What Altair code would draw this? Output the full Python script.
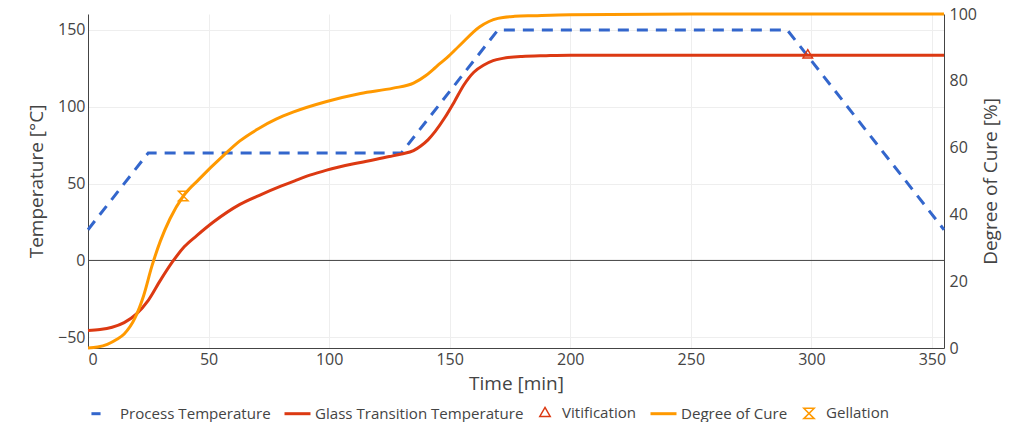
import altair as alt
import pandas as pd

# ---- data ----
proc_t = [0, 25, 130, 170, 290, 355]
proc_T = [20, 70, 70, 150, 150, 20]

tg_t = [0, 5, 10, 15, 20, 25, 30, 35, 40, 45, 52, 63, 72, 80, 86, 92, 99, 113, 125,
        130, 135, 138, 141, 144, 148, 152, 156, 160, 164, 168, 172, 180, 190, 200, 250, 300, 355]
tg_v = [-45.6, -45, -43.5, -40.5, -35, -26, -13, -1, 9, 16, 25, 36.5, 43, 48.3, 52, 55.5, 58.8, 63.8, 67.6,
        69.3, 71.5, 74.5, 78.5, 84, 93, 103.5, 114.5, 122.5, 127, 130, 131.5, 132.8, 133.3, 133.6,
        133.6, 133.6, 133.6]

cure_t = [0, 4, 8, 12, 15, 19.5, 23, 26.5, 30, 34, 39.5, 46, 56, 63, 71, 78, 85, 99, 113,
          126.6, 135, 140, 143, 146, 149, 154, 162.5, 170, 177, 185, 200, 250, 355]
cure_v = [0, 0.3, 1.1, 2.6, 4.2, 9, 15.5, 24.5, 32, 38.7, 45.5, 50.5, 57.5, 62, 65.8, 68.5, 70.6, 73.8, 76.2,
          77.8, 79.3, 81.5, 83.3, 85.2, 87, 90.5, 96.2, 98.7, 99.3, 99.5, 99.8, 100, 100]

vit_t = [298.5]
vit_v = [133.6]
gel_t = [39.5]
gel_v = [45.5]

series = ["Process Temperature", "Glass Transition Temperature", "Vitification",
          "Degree of Cure", "Gellation"]
colors = ["#3366CC", "#DC3912", "#DC3912", "#FF9900", "#FF9900"]

BLUE, RED, ORANGE = "#3366CC", "#DC3912", "#FF9900"
TRI = "M0,-1.1L0.95,0.55L-0.95,0.55Z"
HOUR = "M1,1H-1L1,-1H-1Z"
leg_shapes = ["M-0.85,0H-0.15", "M-1,0H1", "M0,-0.46L0.4,0.23L-0.4,0.23Z",
              "M-1,0H1", "M0.4,0.4H-0.4L0.4,-0.4H-0.4Z"]
leg_widths = [3, 3, 1.5, 3, 1.5]

proc_df = pd.DataFrame({"t": proc_t, "v": proc_T})
tg_df = pd.DataFrame({"t": tg_t, "v": tg_v})
cure_df = pd.DataFrame({"t": cure_t, "c": cure_v})
vit_df = pd.DataFrame({"t": vit_t, "v": vit_v})
gel_df = pd.DataFrame({"t": gel_t, "c": gel_v})
leg_df = pd.DataFrame({"t": [10] * 5, "v": [20] * 5, "s": series})
zero_df = pd.DataFrame({"v": [0]})

TXT = "#444444"
x_enc = alt.X("t:Q", scale=alt.Scale(domain=[0, 355], nice=False, zero=False),
              axis=alt.Axis(title="Time [min]", values=list(range(0, 351, 50)),
                            titlePadding=7))
yl_enc = alt.Y("v:Q", scale=alt.Scale(domain=[-57, 160.4], nice=False, zero=False),
               axis=alt.Axis(title="Temperature [°C]", values=[-50, 0, 50, 100, 150],
                             titlePadding=11))
yr_enc = alt.Y("c:Q", scale=alt.Scale(domain=[0, 100], nice=False, zero=False),
               axis=alt.Axis(title="Degree of Cure [%]", values=list(range(0, 101, 20)),
                             orient="right", titlePadding=5, labelPadding=5,
                             titleAngle=270, titleBaseline="top"))

leg = dict(title=None, orient="none", direction="horizontal",
           legendX=0, legendY=385, symbolSize=676,
           symbolOpacity=1, labelFontSize=15.1, labelColor=TXT,
           labelFont="Open Sans", columnPadding=7, labelLimit=0,
           labelOffset=3, symbolFillColor="transparent")

zero = alt.Chart(zero_df).mark_rule(color=TXT, strokeWidth=1).encode(y=yl_enc)
blue = alt.Chart(proc_df).mark_line(color=BLUE, strokeWidth=3, strokeDash=[11, 8]).encode(x=x_enc, y=yl_enc)
red = alt.Chart(tg_df).mark_line(color=RED, strokeWidth=3, interpolate="monotone").encode(x=x_enc, y=yl_enc)
vit = alt.Chart(vit_df).mark_point(color=RED, filled=False, shape=TRI, size=100,
                                   strokeWidth=1.5, opacity=1).encode(x=x_enc, y=yl_enc)
dummy = alt.Chart(leg_df).mark_point(filled=False, opacity=0).encode(
    x=x_enc, y=yl_enc,
    color=alt.Color("s:N", scale=alt.Scale(domain=series, range=colors), legend=alt.Legend(**leg)),
    shape=alt.Shape("s:N", scale=alt.Scale(domain=series, range=leg_shapes), legend=alt.Legend(**leg)),
    strokeWidth=alt.StrokeWidth("s:N", scale=alt.Scale(type="ordinal", domain=series, range=leg_widths),
                                legend=alt.Legend(**leg)),
)
orange = alt.Chart(cure_df).mark_line(color=ORANGE, strokeWidth=3, interpolate="monotone").encode(x=x_enc, y=yr_enc)
gel = alt.Chart(gel_df).mark_point(color=ORANGE, filled=False, shape=HOUR, size=90,
                                   strokeWidth=1.5, opacity=1).encode(x=x_enc, y=yr_enc)

left = alt.layer(zero, blue, red, vit, dummy)
right = alt.layer(orange, gel)

chart = alt.layer(left, right).resolve_scale(y="independent").properties(
    width=856, height=334,
    autosize=alt.AutoSizeParams(type="none"),
    padding={"left": 80, "top": 6, "right": 60, "bottom": 74},
).configure_view(stroke=None).configure_axis(
    labelFont="Open Sans", titleFont="Open Sans", labelFontSize=16, titleFontSize=19,
    labelColor=TXT, titleColor=TXT, titleFontWeight="normal",
    ticks=False, labelPadding=3, domainColor=TXT, domainWidth=1,
    gridColor="#eeeeee", gridWidth=1,
)

chart.save("out.html", embed_options={"renderer": "svg", "actions": False})
